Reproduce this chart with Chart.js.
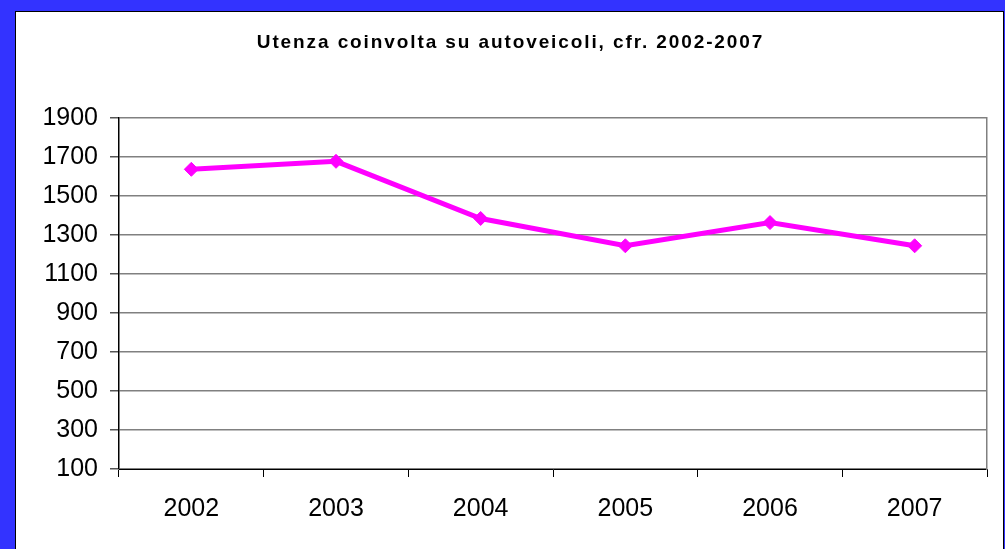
<!DOCTYPE html>
<html>
<head>
<meta charset="utf-8">
<script src="https://cdn.jsdelivr.net/npm/chart.js@4"></script>
<style>
  html, body { margin: 0; padding: 0; }
  body { width: 1005px; height: 549px; background: #3333ff; position: relative; overflow: hidden; }
  .panel { position: absolute; left: 15px; top: 11px; width: 987px; height: 600px; background: #fff; border: 1px solid #000; }
  .wrap { position: absolute; left: 0; top: 0; width: 1005px; height: 549px; }
</style>
</head>
<body>
<div class="panel"></div>
<div class="wrap"><canvas id="lineChart" width="1005" height="549"></canvas></div>
<script>
const years = ["2002", "2003", "2004", "2005", "2006", "2007"];
const utenza = [1636, 1677, 1384, 1244, 1363, 1244];
const yMin = 100;
const yMax = 1900;
const yStep = 200;

const ctx = document.getElementById("lineChart").getContext('2d');
const lineChart = new Chart(ctx, {
    type: 'line',
    data: {
        labels: years,
        datasets: [{
            label: 'Utenza',
            data: utenza,
            borderColor: '#ff00ff',
            backgroundColor: '#ff00ff',
            borderWidth: 5,
            pointStyle: 'rectRot',
            pointRadius: 7,
            pointBorderWidth: 1,
            tension: 0
        }]
    },
    options: {
        responsive: false,
        animation: false,
        layout: { padding: { left: 16, right: 0, top: 0, bottom: 0 } },
        plugins: {
            legend: { display: false },
            tooltip: { enabled: false },
            title: {
                display: true,
                text: 'Utenza coinvolta su autoveicoli, cfr. 2002-2007',
                color: '#000',
                font: { family: 'Liberation Sans, Arial', size: 19, weight: 'bold' },
                padding: { top: 31, bottom: 64 }
            }
        },
        scales: {
            x: {
                offset: true,
                grid: { offset: true, drawOnChartArea: false, tickLength: 8, tickColor: '#000' },
                border: { color: '#000', width: 1 },
                ticks: { color: '#000', padding: 17, font: { family: 'Liberation Sans, Arial', size: 25 } },
                afterFit: (scale) => { scale.height = 80; }
            },
            y: {
                min: yMin,
                max: yMax,
                ticks: {
                    stepSize: yStep, color: '#000', padding: 12,
                    font: { family: 'Liberation Sans, Arial', size: 25 },
                    callback: (v) => String(v)
                },
                grid: { color: '#808080', lineWidth: 1.5, tickLength: 9, tickColor: '#555' },
                border: { color: '#000', width: 1.5 },
                afterFit: (scale) => { scale.width = 103; }
            },
            y2: {
                position: 'right',
                min: yMin,
                max: yMax,
                ticks: { display: false },
                grid: { drawOnChartArea: false, drawTicks: false },
                border: { color: '#808080', width: 1.5 },
                afterFit: (scale) => { scale.width = 18; }
            }
        }
    }
});

// the original title is set with loose letter spacing
const titleBox = lineChart.titleBlock;
if (titleBox) {
    const origDraw = titleBox.draw.bind(titleBox);
    titleBox.draw = function () {
        ctx.save();
        ctx.letterSpacing = '1.9px';
        origDraw();
        ctx.restore();
    };
    lineChart.draw();
}
</script>
</body>
</html>
